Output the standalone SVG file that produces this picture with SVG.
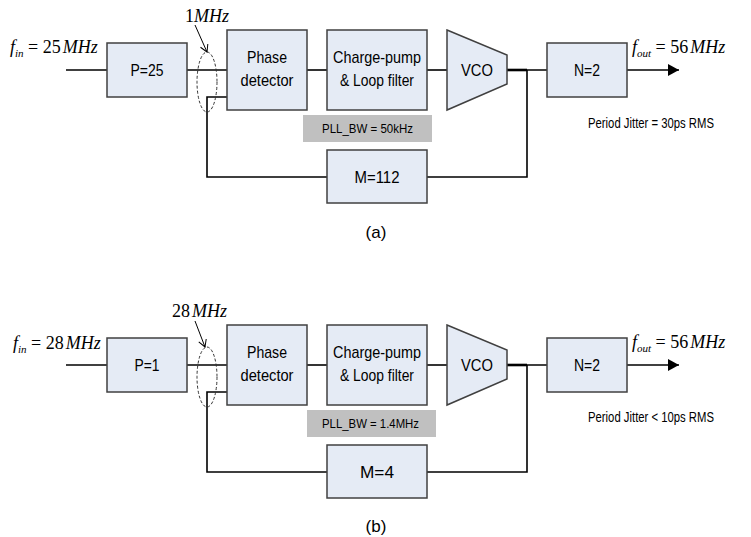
<svg xmlns="http://www.w3.org/2000/svg" width="751" height="537" viewBox="0 0 751 537">
<style>
.box{fill:#e5ebf5;stroke:#404040;stroke-width:1.5}
.bw{fill:#c0c0c0}
.ln{fill:none;stroke:#000;stroke-width:1.6}
.ell{fill:none;stroke:#333;stroke-width:1;stroke-dasharray:3,2}
.lbl{font-family:"Liberation Sans",Arial,sans-serif;font-size:17px;fill:#000;text-anchor:middle}
.sm{font-family:"Liberation Sans",Arial,sans-serif;font-size:12.5px;fill:#000}
.jit{font-family:"Liberation Sans",Arial,sans-serif;font-size:14px;fill:#000}
.math{font-family:"Liberation Serif","Times New Roman",serif;font-size:18px;fill:#000}
.it{font-style:italic}
.sub{font-style:italic;font-size:11px}
.cap{font-family:"Liberation Sans",Arial,sans-serif;font-size:17px;fill:#000;text-anchor:middle}
</style>
<defs>
<marker id="fill" markerWidth="12" markerHeight="12" refX="11" refY="6" orient="auto" markerUnits="userSpaceOnUse">
<path d="M0,0 L11,6 L0,12 Z" fill="#000"/>
</marker>
<marker id="open" markerWidth="10" markerHeight="10" refX="8" refY="5" orient="auto" markerUnits="userSpaceOnUse">
<path d="M1,1 L8,5 L1,9" fill="none" stroke="#000" stroke-width="1"/>
</marker>
</defs>

<!-- Panel (a) -->
<g id="connectors-a">
<line class="ln" x1="66" y1="70" x2="107" y2="70"/>
<line class="ln" x1="187" y1="70" x2="227" y2="70"/>
<line class="ln" x1="307" y1="70" x2="327" y2="70"/>
<line class="ln" x1="427" y1="70" x2="447" y2="70"/>
<line class="ln" x1="507" y1="70" x2="547" y2="70"/>
<line x1="507" y1="70" x2="527" y2="70" stroke="#000" stroke-width="2.6"/>
<line class="ln" x1="627" y1="70" x2="679" y2="70" marker-end="url(#fill)"/>
<polyline class="ln" points="227,97 207,97 207,177 327,177"/>
<polyline class="ln" points="427,177 527,177 527,70"/>
<line x1="195" y1="25" x2="207" y2="52" stroke="#000" stroke-width="1" marker-end="url(#open)"/>
</g>
<ellipse class="ell" cx="207" cy="82" rx="10" ry="30"/>
<g id="fin-a"><text class="math" x="10" y="53"><tspan class="it">f</tspan><tspan class="sub" dy="4">in</tspan><tspan dy="-4"> = 25</tspan><tspan class="it" dx="2">MHz</tspan></text></g>
<g id="f1-a"><text class="math" x="185" y="22">1<tspan class="it">MHz</tspan></text></g>
<g id="P-a"><rect class="box" x="107" y="43" width="80" height="54"/><text class="lbl" x="147" y="76" textLength="33" lengthAdjust="spacingAndGlyphs">P=25</text></g>
<g id="PD-a"><rect class="box" x="227" y="30" width="80" height="80"/><text class="lbl" x="267" y="63" textLength="40" lengthAdjust="spacingAndGlyphs">Phase</text><text class="lbl" x="267" y="86" textLength="53" lengthAdjust="spacingAndGlyphs">detector</text></g>
<g id="CP-a"><rect class="box" x="327" y="30" width="100" height="80"/><text class="lbl" x="377" y="63" textLength="88" lengthAdjust="spacingAndGlyphs">Charge-pump</text><text class="lbl" x="377" y="86" textLength="74" lengthAdjust="spacingAndGlyphs">&amp; Loop filter</text></g>
<g id="VCO-a"><polygon class="box" points="447,30 507,55 507,84 447,110"/><text class="lbl" x="477" y="76" textLength="32" lengthAdjust="spacingAndGlyphs">VCO</text></g>
<g id="N-a"><rect class="box" x="547" y="43" width="80" height="54"/><text class="lbl" x="587" y="76" textLength="26" lengthAdjust="spacingAndGlyphs">N=2</text></g>
<g id="M-a"><rect class="box" x="327" y="150" width="100" height="53"/><text class="lbl" x="377" y="183" textLength="45" lengthAdjust="spacingAndGlyphs">M=112</text></g>
<g id="BW-a"><rect class="bw" x="303" y="115" width="129" height="27"/><text class="sm" x="322" y="133" textLength="91" lengthAdjust="spacingAndGlyphs">PLL_BW = 50kHz</text></g>
<g id="fout-a"><text class="math" x="632" y="53"><tspan class="it">f</tspan><tspan class="sub" dy="4">out</tspan><tspan dy="-4"> = 56</tspan><tspan class="it" dx="2">MHz</tspan></text></g>
<g id="jit-a"><text class="jit" x="588" y="128" textLength="126" lengthAdjust="spacingAndGlyphs">Period Jitter = 30ps RMS</text></g>
<g id="cap-a"><text class="cap" x="376" y="238">(a)</text></g>

<!-- Panel (b) -->
<g id="connectors-b">
<line class="ln" x1="66" y1="365" x2="107" y2="365"/>
<line class="ln" x1="187" y1="365" x2="227" y2="365"/>
<line class="ln" x1="307" y1="365" x2="327" y2="365"/>
<line class="ln" x1="427" y1="365" x2="447" y2="365"/>
<line class="ln" x1="507" y1="365" x2="547" y2="365"/>
<line x1="507" y1="365" x2="527" y2="365" stroke="#000" stroke-width="2.6"/>
<line class="ln" x1="627" y1="365" x2="679" y2="365" marker-end="url(#fill)"/>
<polyline class="ln" points="227,392 207,392 207,472 327,472"/>
<polyline class="ln" points="427,472 527,472 527,365"/>
<line x1="195" y1="321" x2="205" y2="347" stroke="#000" stroke-width="1" marker-end="url(#open)"/>
</g>
<ellipse class="ell" cx="207" cy="377" rx="10" ry="30"/>
<g id="fin-b"><text class="math" x="13" y="349"><tspan class="it">f</tspan><tspan class="sub" dy="4">in</tspan><tspan dy="-4"> = 28</tspan><tspan class="it" dx="2">MHz</tspan></text></g>
<g id="f28-b"><text class="math" x="172" y="317">28<tspan class="it" dx="2">MHz</tspan></text></g>
<g id="P-b"><rect class="box" x="107" y="338" width="80" height="54"/><text class="lbl" x="147" y="371" textLength="25" lengthAdjust="spacingAndGlyphs">P=1</text></g>
<g id="PD-b"><rect class="box" x="227" y="325" width="80" height="80"/><text class="lbl" x="267" y="358" textLength="40" lengthAdjust="spacingAndGlyphs">Phase</text><text class="lbl" x="267" y="381" textLength="53" lengthAdjust="spacingAndGlyphs">detector</text></g>
<g id="CP-b"><rect class="box" x="327" y="325" width="100" height="80"/><text class="lbl" x="377" y="358" textLength="88" lengthAdjust="spacingAndGlyphs">Charge-pump</text><text class="lbl" x="377" y="381" textLength="74" lengthAdjust="spacingAndGlyphs">&amp; Loop filter</text></g>
<g id="VCO-b"><polygon class="box" points="447,325 507,350 507,379 447,405"/><text class="lbl" x="477" y="371" textLength="32" lengthAdjust="spacingAndGlyphs">VCO</text></g>
<g id="N-b"><rect class="box" x="547" y="338" width="80" height="54"/><text class="lbl" x="587" y="371" textLength="26" lengthAdjust="spacingAndGlyphs">N=2</text></g>
<g id="M-b"><rect class="box" x="327" y="445" width="100" height="53"/><text class="lbl" x="377" y="478" textLength="34" lengthAdjust="spacingAndGlyphs">M=4</text></g>
<g id="BW-b"><rect class="bw" x="307" y="410" width="129" height="27"/><text class="sm" x="322" y="428" textLength="97" lengthAdjust="spacingAndGlyphs">PLL_BW = 1.4MHz</text></g>
<g id="fout-b"><text class="math" x="632" y="348"><tspan class="it">f</tspan><tspan class="sub" dy="4">out</tspan><tspan dy="-4"> = 56</tspan><tspan class="it" dx="2">MHz</tspan></text></g>
<g id="jit-b"><text class="jit" x="588" y="422" textLength="126" lengthAdjust="spacingAndGlyphs">Period Jitter &lt; 10ps RMS</text></g>
<g id="cap-b"><text class="cap" x="376" y="532">(b)</text></g>
</svg>
